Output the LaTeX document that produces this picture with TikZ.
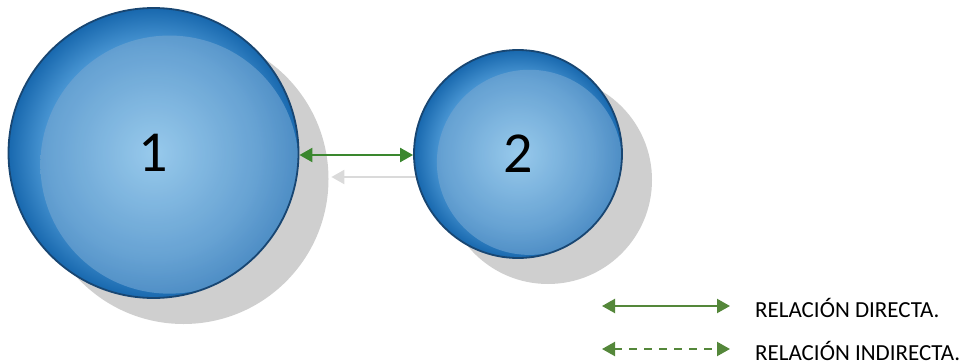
\documentclass[tikz,border=0pt]{standalone}
\usepackage{fontspec}
\setmainfont{Carlito}
\usetikzlibrary{arrows.meta, shadows, calc}
\definecolor{bubbleEdge}{RGB}{24,70,114}
\definecolor{bubbleOuter}{RGB}{24,104,174}
\definecolor{bubbleRing}{RGB}{80,156,216}
\definecolor{bubbleMid}{RGB}{84,146,200}
\definecolor{bubbleInner}{RGB}{160,207,238}
\definecolor{shadowGray}{RGB}{207,207,207}
\definecolor{relGreen}{RGB}{58,135,46}
\definecolor{legendGreen}{RGB}{84,135,58}
\definecolor{ghostGray}{RGB}{218,218,218}
\pgfdeclareradialshading{bubbleBase}{\pgfpoint{0bp}{0bp}}{color(0bp)=(bubbleRing); color(18bp)=(bubbleRing); color(25bp)=(bubbleOuter); color(50bp)=(bubbleOuter)}
\pgfdeclareradialshading{bubbleGlow}{\pgfpoint{0bp}{0bp}}{color(0bp)=(bubbleInner); color(25bp)=(bubbleMid); color(50bp)=(bubbleMid)}

\begin{document}
\begin{tikzpicture}[x=1pt, y=-1pt,
    bubble/.style={circle, draw=bubbleEdge, line width=1.8pt, inner sep=0pt,
        minimum size=#1*2pt, shading=bubbleBase,
        drop shadow={shadow xshift=30pt, shadow yshift=-26pt, fill=shadowGray, opacity=1},
        path picture={\shade[shading=bubbleGlow, opacity=0.9]
            ($(path picture bounding box.center)+(0.11*#1,0.08*#1)$) circle (0.89*#1pt);},
        font=\fontsize{58}{58}\selectfont},
    relarrow/.style={line width=2.2pt, {Triangle[length=13pt,width=14pt]}-{Triangle[length=13pt,width=14pt]}},
    legendtext/.style={anchor=base west, inner sep=0pt, font=\fontsize{23}{23}\selectfont}]

    \useasboundingbox (0,0) rectangle (969,364);

    % 1. ESFERA PRINCIPAL
    \node[bubble=145] (uno) at (153.5,153) {1};

    % 2. SOMBRA DE LA RELACION
    \draw[relarrow, ghostGray] ([shift={(32,24)}]uno.east) -- ([shift={(32,24)}]uno.east -| 446,0);

    % 3. ESFERA SECUNDARIA
    \node[bubble=104] (dos) at (518,154) {2};

    % Relacion directa entre esferas
    \draw[relarrow, relGreen] (uno.east |- 0,155) -- (dos.west |- 0,155);

    % 4. LEYENDA
    \coordinate (dirIni) at (602,306);
    \coordinate (dirFin) at (730,306);
    \coordinate (indIni) at (602,349);
    \coordinate (indFin) at (730,349);
    \draw[relarrow, legendGreen] (dirIni) -- (dirFin);
    \draw[relarrow, legendGreen, dash pattern=on 8pt off 7pt] (indIni) -- (indFin);
    \node[legendtext] (dirTxt) at (755,317) {RELACIÓN DIRECTA.};
    \node[legendtext] (indTxt) at (755,360) {RELACIÓN INDIRECTA.};

\end{tikzpicture}
\end{document}
